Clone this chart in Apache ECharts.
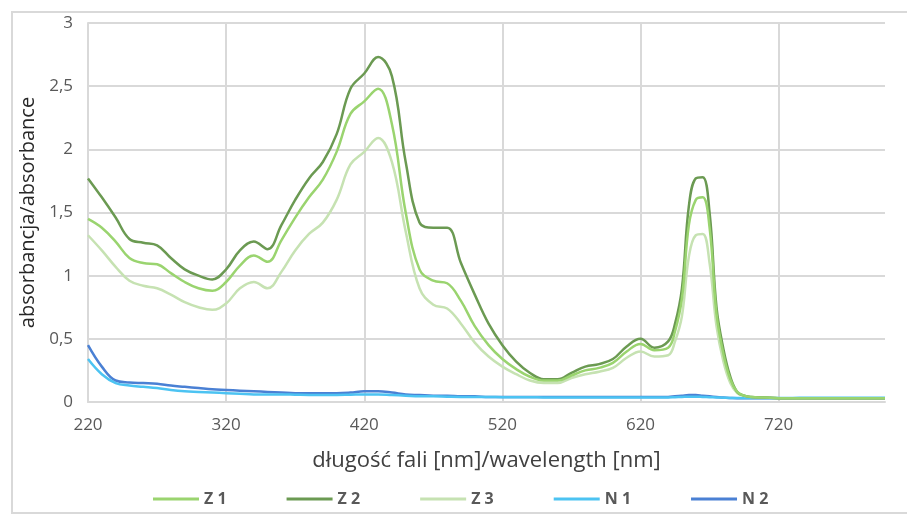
<!DOCTYPE html>
<html>
<head>
<meta charset="utf-8">
<script src="https://cdn.jsdelivr.net/npm/echarts@6/dist/echarts.min.js"></script>
<style>
  html, body { margin: 0; padding: 0; background: #fff; }
  #container { width: 907px; height: 517px; }
</style>
</head>
<body>
<div id="container"></div>
<script>
// wavelength grid (nm)
var wavelengths = [220,230,240,250,260,270,280,290,300,310,320,330,340,350,360,370,380,390,400,410,
    420,430,440,450,460,470,480,490,500,510,520,530,540,550,560,570,580,590,600,610,620,630,
    640,645,650,655,660,665,670,675,680,685,690,695,700,
    710,720,730,740,750,760,770,780,790,797];

var z1 = [1.45,1.38,1.27,1.14,1.10,1.09,1.02,0.95,0.90,0.88,0.95,1.08,1.16,1.11,1.28,1.46,1.62,1.76,1.98,2.28,
    2.38,2.48,2.20,1.50,1.05,0.96,0.94,0.80,0.60,0.45,0.34,0.26,0.20,0.17,0.17,0.21,0.25,0.27,0.31,0.40,0.46,0.41,
    0.43,0.56,0.82,1.40,1.60,1.62,1.38,0.70,0.38,0.18,0.08,0.05,0.04,
    0.035,0.03,0.03,0.03,0.03,0.03,0.03,0.03,0.03,0.03];

var z2 = [1.77,1.62,1.46,1.29,1.26,1.24,1.14,1.05,1.00,0.97,1.05,1.20,1.27,1.21,1.40,1.60,1.77,1.90,2.12,2.48,
    2.60,2.73,2.58,1.90,1.42,1.38,1.38,1.10,0.85,0.62,0.45,0.32,0.23,0.18,0.18,0.23,0.28,0.30,0.34,0.44,0.50,0.43,
    0.48,0.62,0.90,1.55,1.77,1.78,1.50,0.75,0.42,0.20,0.08,0.05,0.04,
    0.035,0.03,0.03,0.03,0.03,0.03,0.03,0.03,0.03,0.03];

var z3 = [1.32,1.20,1.07,0.96,0.92,0.90,0.85,0.79,0.75,0.73,0.78,0.90,0.95,0.90,1.03,1.20,1.33,1.42,1.60,1.88,
    1.98,2.09,1.90,1.35,0.90,0.77,0.74,0.62,0.47,0.36,0.28,0.22,0.17,0.15,0.15,0.19,0.22,0.24,0.27,0.35,0.40,0.36,
    0.37,0.48,0.68,1.15,1.32,1.33,1.10,0.60,0.32,0.15,0.07,0.05,0.04,
    0.035,0.03,0.03,0.03,0.03,0.03,0.03,0.03,0.03,0.03];

var n1 = [0.34,0.22,0.15,0.13,0.12,0.11,0.095,0.085,0.08,0.075,0.07,0.065,0.06,0.06,0.06,0.058,0.056,0.056,0.056,0.058,
    0.06,0.06,0.055,0.05,0.045,0.045,0.042,0.04,0.04,0.04,0.038,0.038,0.038,0.036,0.036,0.036,0.036,0.036,0.036,0.036,0.036,0.036,
    0.036,0.038,0.04,0.042,0.042,0.04,0.038,0.036,0.034,0.032,0.032,0.032,0.032,
    0.032,0.032,0.032,0.034,0.034,0.034,0.034,0.034,0.034,0.034];

var n2 = [0.45,0.28,0.17,0.155,0.15,0.145,0.13,0.12,0.11,0.10,0.095,0.09,0.085,0.08,0.075,0.07,0.07,0.07,0.07,0.075,
    0.085,0.085,0.075,0.06,0.055,0.05,0.05,0.045,0.045,0.04,0.04,0.04,0.04,0.04,0.04,0.04,0.04,0.04,0.04,0.04,0.04,0.04,
    0.04,0.045,0.05,0.055,0.055,0.05,0.045,0.04,0.035,0.032,0.03,0.03,0.03,
    0.03,0.03,0.03,0.03,0.03,0.03,0.03,0.03,0.03,0.03];

var seriesNames = ['Z 1', 'Z 2', 'Z 3', 'N 1', 'N 2'];
var seriesColors = ['#9ad46f', '#6b9a52', '#c6e2b2', '#4cc3f2', '#4a80d4'];
var seriesData = [z1, z2, z3, n1, n2];

function pairs(values) {
    return wavelengths.map(function (w, i) { return [w, values[i]]; });
}

var myChart = echarts.init(document.getElementById('container'));
var option = {
    animation: false,
    textStyle: { fontFamily: 'Open Sans' },
    graphic: [{
        type: 'polyline',
        shape: { points: [[930, 12], [12, 12], [12, 513], [930, 513]] },
        style: { stroke: '#d9d9d9', lineWidth: 2, fill: null },
        silent: true
    }],
    grid: { left: 88, right: 22, top: 23, bottom: 115 },
    legend: {
        top: 486,
        left: 148,
        itemWidth: 46,
        itemHeight: 3,
        itemGap: 60,
        icon: 'rect',
        textStyle: { color: '#595959', fontSize: 16, fontWeight: 'bold', fontFamily: 'Open Sans' },
        data: seriesNames
    },
    xAxis: {
        type: 'value',
        min: 220,
        max: 797,
        interval: 100,
        name: 'długość fali [nm]/wavelength [nm]',
        nameLocation: 'middle',
        nameGap: 48,
        nameTextStyle: { color: '#404040', fontSize: 22, fontFamily: 'Open Sans' },
        axisLine: { show: true, lineStyle: { color: '#d9d9d9', width: 2 } },
        axisTick: { show: false },
        axisLabel: { color: '#595959', fontSize: 17, margin: 15, showMaxLabel: false },
        splitLine: { show: true, showMaxLine: false, lineStyle: { color: '#d9d9d9', width: 2 } }
    },
    yAxis: {
        type: 'value',
        min: 0,
        max: 3,
        interval: 0.5,
        name: 'absorbancja/absorbance',
        nameLocation: 'middle',
        nameGap: 48,
        nameTextStyle: { color: '#262626', fontSize: 20, fontFamily: 'Open Sans' },
        axisLine: { show: true, lineStyle: { color: '#d9d9d9', width: 2 } },
        axisTick: { show: false },
        axisLabel: {
            color: '#595959',
            fontSize: 17,
            margin: 15,
            formatter: function (v) { return String(v).replace('.', ','); }
        },
        splitLine: { show: true, lineStyle: { color: '#d9d9d9', width: 2 } }
    },
    series: seriesNames.map(function (name, i) {
        return {
            name: name,
            type: 'line',
            data: pairs(seriesData[i]),
            smooth: 0.4,
            showSymbol: false,
            color: seriesColors[i],
            lineStyle: { width: 2.5, color: seriesColors[i] },
            z: 10 - i
        };
    })
};
myChart.setOption(option);
</script>
</body>
</html>
